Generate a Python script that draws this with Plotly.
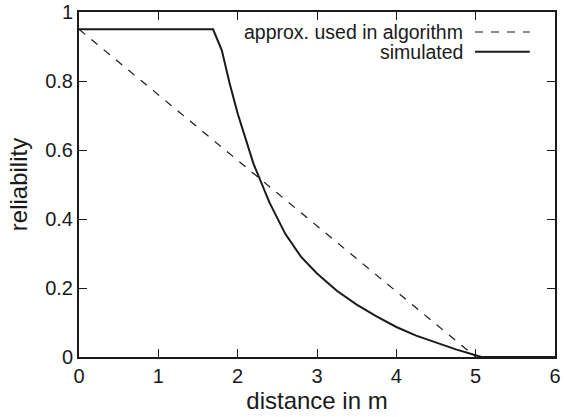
import plotly.graph_objects as go

# data
approx_x = [0.0, 5.0]
approx_y = [0.95, 0.0]

sim_x = [0.0, 1.69, 1.80, 1.90, 2.0, 2.2, 2.4, 2.6, 2.8, 3.0, 3.25, 3.5, 3.75,
         4.0, 4.25, 4.5, 4.75, 5.0, 5.07, 6.0]
sim_y = [0.95, 0.95, 0.889, 0.792, 0.706, 0.560, 0.448, 0.357, 0.290, 0.242, 0.192, 0.152, 0.118,
         0.087, 0.062, 0.041, 0.022, 0.005, 0.0, 0.0]

x_ticks = [0, 1, 2, 3, 4, 5, 6]
y_ticks = [0, 0.2, 0.4, 0.6, 0.8, 1]
y_tick_labels = ["0", "0.2", "0.4", "0.6", "0.8", "1"]

FONT = "Liberation Sans, Arial, sans-serif"
INK = "#1a1a1a"

fig = go.Figure()
fig.add_trace(go.Scatter(x=approx_x, y=approx_y, mode="lines",
                         line=dict(color=INK, width=1.2, dash="8px,8px"),
                         name="approx. used in algorithm", showlegend=False))
fig.add_trace(go.Scatter(x=sim_x, y=sim_y, mode="lines",
                         line=dict(color=INK, width=2),
                         name="simulated", showlegend=False))

# legend drawn manually (text right-aligned, sample on the right as in reference)
leg = [("approx. used in algorithm", "8px,8px", 1.2, 0.942),
       ("simulated", "solid", 2, 0.885)]
for text, dash, w, yy in leg:
    fig.add_annotation(x=0.806, y=yy, xref="paper", yref="paper", text=text,
                       showarrow=False, xanchor="right", yanchor="middle",
                       xshift=2, font=dict(family=FONT, size=19.5, color=INK))
    fig.add_shape(type="line", xref="paper", yref="paper",
                  x0=0.832, x1=0.947, y0=yy, y1=yy,
                  line=dict(color=INK, width=w, dash=dash))

axis_common = dict(showgrid=False, zeroline=False, showline=True, linecolor=INK,
                   linewidth=2, mirror="ticks", ticks="inside", ticklen=8,
                   tickwidth=1.3, tickcolor=INK, automargin=False,
                   tickfont=dict(family=FONT, size=20, color=INK))

fig.update_xaxes(range=[0, 6], tickvals=x_ticks, ticktext=[str(t) for t in x_ticks],
                 title=dict(text="distance in m", font=dict(family=FONT, size=24, color=INK),
                            standoff=3),
                 **axis_common)
fig.update_yaxes(range=[0, 1], tickvals=y_ticks, ticktext=y_tick_labels,
                 title=dict(text="reliability", font=dict(family=FONT, size=24, color=INK),
                            standoff=11),
                 **axis_common)

fig.update_layout(width=564, height=417, margin=dict(l=79, r=9, t=12, b=60),
                  plot_bgcolor="white", paper_bgcolor="white", showlegend=False)

fig.write_html("out.html")
